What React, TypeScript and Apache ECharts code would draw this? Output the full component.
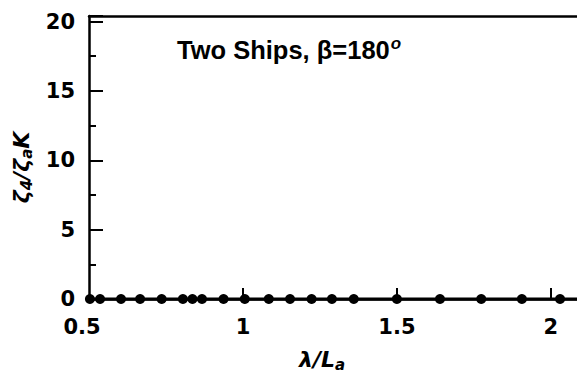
import React, { useEffect, useRef } from "react";
import * as echarts from "echarts";

const lambdaOverL: number[] = [
  0.503, 0.536, 0.604, 0.666, 0.736, 0.805, 0.836, 0.867, 0.937, 1.006,
  1.084, 1.153, 1.223, 1.289, 1.36, 1.5, 1.64, 1.774, 1.906, 2.03,
];
const pitchResponse: number[] = [
  0, 0, 0, 0, 0, 0, 0, 0, 0, 0, 0, 0, 0, 0, 0, 0, 0, 0, 0, 0,
];
const lineEnd: [number, number] = [2.085, 0];
const xTicks: number[] = [0.5, 1, 1.5, 2];
const yTicks: number[] = [0, 5, 10, 15, 20];
const titleText = "Two Ships, β=180";

const FONT = "'DejaVu Sans', 'Liberation Sans', Arial, sans-serif";

export default function App() {
  const ref = useRef<HTMLDivElement>(null);
  useEffect(() => {
    if (!ref.current) return;
    const chart = echarts.init(ref.current, undefined, { renderer: "svg" });
    const data: any[] = lambdaOverL.map((x, i) => [x, pitchResponse[i]]);
    data.push({ value: lineEnd, symbol: "none" });
    const near = (v: number, arr: number[]) => arr.some((t) => Math.abs(t - v) < 1e-6);
    chart.setOption({
      animation: false,
      backgroundColor: "#fff",
      title: {
        text: `${titleText}{sup|o}`,
        left: 172,
        top: 30,
        textStyle: {
          fontFamily: "'Liberation Sans', Arial, sans-serif",
          fontWeight: "bold",
          fontSize: 25.5,
          color: "#000",
          rich: {
            sup: {
              fontFamily: "'Liberation Sans', Arial, sans-serif",
              fontStyle: "italic",
              fontSize: 17,
              color: "#000",
              padding: [0, 0, 12, 1],
            },
          },
        },
      },
      grid: { left: 89, right: 0, top: 16, bottom: 74 },
      xAxis: [
        {
          type: "value",
          min: 0.5,
          max: lineEnd[0],
          interval: 0.5,
          position: "bottom",
          splitLine: { show: false },
          axisLine: { show: true, onZero: false, lineStyle: { color: "#000", width: 2.5 } },
          axisTick: {
            show: true,
            inside: true,
            length: 11,
            customValues: xTicks.slice(1),
            lineStyle: { color: "#000", width: 2 },
          },
          axisLabel: {
            color: "#000",
            fontFamily: FONT,
            fontWeight: "bold",
            fontSize: 21,
            margin: 17,
            customValues: xTicks,
            formatter: (v: number) => {
              if (!near(v, xTicks)) return "";
              if (Math.abs(v - 0.5) < 1e-6) return "{first|0.5}";
              return String(v);
            },
            rich: {
              first: {
                color: "#000",
                fontFamily: FONT,
                fontWeight: "bold",
                fontSize: 21,
                padding: [0, 14, 0, 0],
              },
            },
          },
          name: "{i|λ/L}{sub|a}",
          nameLocation: "middle",
          nameGap: 48,
          nameTextStyle: {
            padding: [0, 22, 0, 0],
            rich: {
              i: {
                fontFamily: FONT,
                fontStyle: "italic",
                fontWeight: "bold",
                fontSize: 22,
                color: "#000",
              },
              sub: {
                fontFamily: FONT,
                fontStyle: "italic",
                fontWeight: "bold",
                fontSize: 15,
                color: "#000",
                padding: [10, 0, 0, 0],
              },
            },
          },
        },
        {
          type: "value",
          min: 0.5,
          max: lineEnd[0],
          position: "top",
          axisLine: { show: true, onZero: false, lineStyle: { color: "#000", width: 2.5 } },
          axisTick: { show: false },
          axisLabel: { show: false },
          splitLine: { show: false },
        },
      ],
      yAxis: {
        type: "value",
        min: 0,
        max: 20.4,
        interval: 5,
        splitLine: { show: false },
        axisLine: { show: true, onZero: false, lineStyle: { color: "#000", width: 2.5 } },
        axisTick: { show: true, inside: true, length: 14, lineStyle: { color: "#000", width: 2 } },
        minorTick: { show: true, splitNumber: 2, length: 7, lineStyle: { color: "#000", width: 2 } },
        axisLabel: {
          color: "#000",
          fontFamily: FONT,
          fontWeight: "bold",
          fontSize: 21,
          margin: 14,
          formatter: (v: number) => (near(v, yTicks) ? String(v) : ""),
        },
        name: "{i|ζ}{sub|4}{i|/ζ}{sub|a}{i|K}",
        nameLocation: "middle",
        nameGap: 55,
        nameTextStyle: {
          padding: [0, 20, 0, 0],
          rich: {
            i: {
              fontFamily: FONT,
              fontStyle: "italic",
              fontWeight: "bold",
              fontSize: 22,
              color: "#000",
            },
            sub: {
              fontFamily: FONT,
              fontStyle: "italic",
              fontWeight: "bold",
              fontSize: 15,
              color: "#000",
              padding: [10, 0, 0, 0],
            },
          },
        },
      },
      series: [
        {
          type: "line",
          xAxisIndex: 0,
          data,
          symbol: "circle",
          symbolSize: 10,
          showSymbol: true,
          itemStyle: { color: "#000" },
          lineStyle: { color: "#000", width: 3 },
          clip: false,
        },
      ],
    });
    return () => chart.dispose();
  }, []);
  return (
    <div
      ref={ref}
      style={{ position: "fixed", left: 0, top: 0, width: 577, height: 377 }}
    />
  );
}
